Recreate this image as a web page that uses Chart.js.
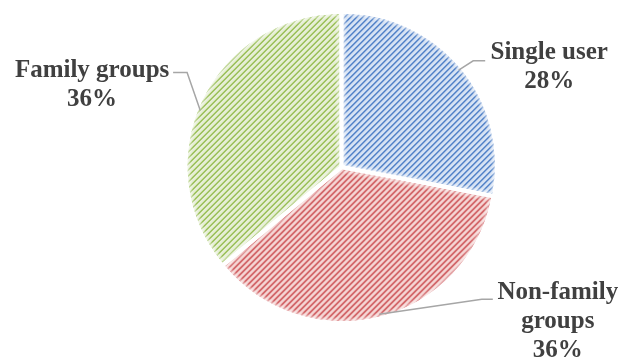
<!DOCTYPE html>
<html>
<head>
<meta charset="utf-8">
<script src="https://cdn.jsdelivr.net/npm/chart.js@4/dist/chart.umd.min.js"></script>
<style>
  html, body { margin: 0; padding: 0; background: #ffffff; }
  #wrap { width: 621px; height: 357px; position: relative; }
</style>
</head>
<body>
<div id="wrap"><canvas id="c" width="621" height="357"></canvas></div>
<script>
// ---- data ----
const categories = ['Single user', 'Non-family groups', 'Family groups'];
const shares = [28, 36, 36];
const labelNameLines = [['Single user'], ['Non-family', 'groups'], ['Family groups']];

// ---- styles ----
const stripeColors = ['#4a7cc6', '#c9474b', '#97be52'];
const fillColors = ['#d7e3f4', '#f5d4d3', '#e7efd6'];
const sliceOffsets = [12, 10, 10];
const labelFont = 'bold 25px "Liberation Serif", serif';
const labelColor = '#404040';
const leaderColor = '#a6a6a6';
const lineHeight = 29;
// label layout relative to each slice's rim anchor: elbow, line end, text centre & first baseline
const labelLayout = [
  { elbow: [13, -8], end: [25, -8], text: [89, -10] },
  { elbow: [102, -17], end: [113, -17], text: [178, -17] },
  { elbow: [-15, -29], end: [-29, -29], text: [-110, -24], along: 3.5 }
];

function makePattern(fg, bg) {
  const p = 6, w = 2;
  const c = document.createElement('canvas');
  c.width = p; c.height = p;
  const g = c.getContext('2d');
  g.fillStyle = bg; g.fillRect(0, 0, p, p);
  g.fillStyle = fg;
  for (let y = 0; y < p; y++) for (let x = 0; x < p; x++) {
    if (((x + y) % p) < w) g.fillRect(x, y, 1, 1);
  }
  return g.createPattern(c, 'repeat');
}
const patterns = stripeColors.map((fg, i) => makePattern(fg, fillColors[i]));

function arcShift(arc, offset) {
  const circ = arc.endAngle - arc.startAngle;
  const half = (arc.startAngle + arc.endAngle) / 2;
  const o = offset / 4;
  const fix = 1 - Math.sin(Math.min(Math.PI, circ));
  const t = o + o * fix;
  return [Math.cos(half) * t, Math.sin(half) * t, half];
}

const rimPlugin = {
  id: 'softRim',
  afterDatasetsDraw(chart) {
    const ctx = chart.ctx;
    const meta = chart.getDatasetMeta(0);
    meta.data.forEach((arc, i) => {
      const [sx, sy] = arcShift(arc, sliceOffsets[i]);
      const cx = arc.x + sx, cy = arc.y + sy, r = arc.outerRadius;
      ctx.save();
      ctx.beginPath();
      ctx.moveTo(cx, cy);
      ctx.arc(cx, cy, r, arc.startAngle, arc.endAngle);
      ctx.closePath();
      ctx.clip();
      for (let k = 0; k < 3; k++) {
        ctx.strokeStyle = 'rgba(255,255,255,' + (0.28 - k * 0.08) + ')';
        ctx.lineWidth = 2 + k * 2.5;
        ctx.stroke();
      }
      ctx.restore();
    });
  }
};

const labelPlugin = {
  id: 'pieLabels',
  afterDraw(chart) {
    const ctx = chart.ctx;
    const meta = chart.getDatasetMeta(0);
    meta.data.forEach((arc, i) => {
      const [sx, sy, half] = arcShift(arc, sliceOffsets[i]);
      const cx = arc.x + sx, cy = arc.y + sy;
      const L = labelLayout[i];
      const ax = cx + Math.cos(half) * arc.outerRadius;
      const ay = cy + Math.sin(half) * arc.outerRadius;
      const a2 = half - (L.along || 0) * Math.PI / 180;
      const lx = cx + Math.cos(a2) * (arc.outerRadius - 2);
      const ly = cy + Math.sin(a2) * (arc.outerRadius - 2);
      ctx.save();
      ctx.strokeStyle = leaderColor;
      ctx.lineWidth = 1.5;
      ctx.beginPath();
      ctx.moveTo(lx, ly);
      ctx.lineTo(ax + L.elbow[0], ay + L.elbow[1]);
      ctx.lineTo(ax + L.end[0], ay + L.end[1]);
      ctx.stroke();
      ctx.font = labelFont;
      ctx.fillStyle = labelColor;
      ctx.textAlign = 'center';
      ctx.textBaseline = 'alphabetic';
      const lines = labelNameLines[i].concat([shares[i] + '%']);
      lines.forEach((t, k) => {
        ctx.fillText(t, ax + L.text[0], ay + L.text[1] + k * lineHeight);
      });
      ctx.restore();
    });
  }
};

new Chart(document.getElementById('c'), {
  type: 'pie',
  data: {
    labels: categories,
    datasets: [{
      data: shares,
      backgroundColor: patterns,
      borderWidth: 0,
      offset: sliceOffsets,
      hoverOffset: 0,
      radius: 151
    }]
  },
  options: {
    responsive: false,
    animation: false,
    events: [],
    layout: { padding: { left: 62, right: 0, top: 0, bottom: 23 } },
    plugins: { legend: { display: false }, tooltip: { enabled: false } }
  },
  plugins: [rimPlugin, labelPlugin]
});
</script>
</body>
</html>
